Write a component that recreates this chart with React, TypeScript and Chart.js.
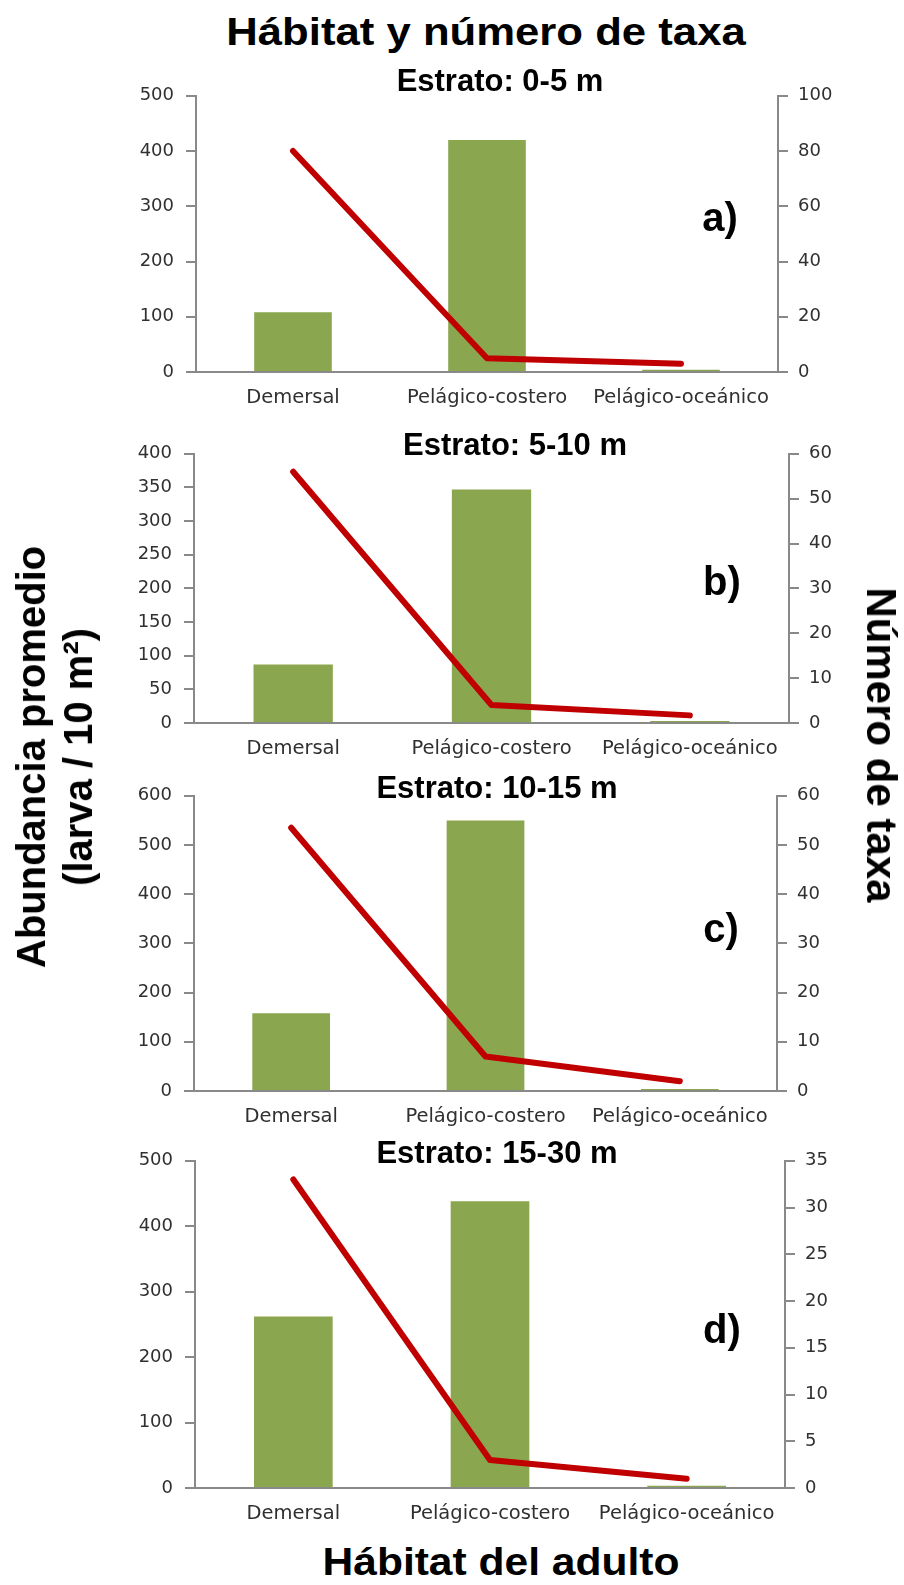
import React, { useEffect, useRef } from "react";
import { Chart, registerables } from "chart.js";

Chart.register(...registerables);

// ---------- data ----------
const categories = ["Demersal", "Pelágico-costero", "Pelágico-oceánico"];

const panelTitles = ["Estrato: 0-5 m", "Estrato: 5-10 m", "Estrato: 10-15 m", "Estrato: 15-30 m"];
const panelLetters = ["a)", "b)", "c)", "d)"];

const abundance0_5 = [108, 420, 4];
const taxa0_5 = [80, 5, 3];
const abundance5_10 = [87, 347, 3];
const taxa5_10 = [56, 4, 1.7];
const abundance10_15 = [158, 550, 4];
const taxa10_15 = [53.5, 7, 2];
const abundance15_30 = [262, 438, 3.5];
const taxa15_30 = [33, 3, 1];

const leftMax = [500, 400, 600, 500];
const leftStep = [100, 50, 100, 100];
const rightMax = [100, 60, 60, 35];
const rightStep = [20, 10, 10, 5];

const mainTitle = "Hábitat y número de taxa";
const xTitle = "Hábitat del adulto";
const yLeftTitle1 = "Abundancia promedio";
const yLeftTitle2 = "(larva / 10 m²)";
const yRightTitle = "Número de taxa";

const abundanceSeries = [abundance0_5, abundance5_10, abundance10_15, abundance15_30];
const taxaSeries = [taxa0_5, taxa5_10, taxa10_15, taxa15_30];

// ---------- layout / style ----------
const CANVAS_LEFT = 100;
const CANVAS_WIDTH = 790;
const PAD_TOP = 15;
const X_AXIS_H = 45;
const AXIS = "#898989";
const TICK = "#303030";
const BAR = "#8AA64E";
const LINE = "#C00000";
const TITLE_FONT = '"Liberation Sans", Arial, sans-serif';
const TICK_FONT = '"DejaVu Sans", Verdana, sans-serif';

const layouts = [
  { left: 196, right: 778, top: 88, bottom: 372, titleX: 500, titleY: 80, letterX: 720, letterY: 217 },
  { left: 194, right: 789, top: 446, bottom: 723, titleX: 515, titleY: 444, letterX: 722, letterY: 581 },
  { left: 194, right: 777, top: 788, bottom: 1091, titleX: 497, titleY: 787, letterX: 721, letterY: 928 },
  { left: 195, right: 785, top: 1153, bottom: 1488, titleX: 497, titleY: 1152, letterX: 722, letterY: 1329 },
];

function Panel({ idx }: { idx: number }) {
  const ref = useRef<HTMLCanvasElement>(null);
  const L = layouts[idx];
  const height = PAD_TOP + (L.bottom - L.top) + X_AXIS_H;

  useEffect(() => {
    const canvas = ref.current!;
    const chart = new Chart(canvas, {
      type: "bar",
      data: {
        labels: categories,
        datasets: [
          {
            type: "line",
            data: taxaSeries[idx],
            yAxisID: "y1",
            borderColor: LINE,
            backgroundColor: LINE,
            borderWidth: 6,
            pointRadius: 0,
            tension: 0,
            fill: false,
            order: 0,
            borderCapStyle: "round",
            borderJoinStyle: "round",
          } as any,
          {
            type: "bar",
            data: abundanceSeries[idx],
            yAxisID: "y",
            backgroundColor: BAR,
            borderWidth: 0,
            barPercentage: 0.4,
            categoryPercentage: 1,
            order: 1,
          } as any,
        ],
      },
      options: {
        responsive: false,
        animation: false,
        devicePixelRatio: 1,
        layout: { padding: { top: PAD_TOP, left: 0, right: 0, bottom: 0 } },
        plugins: {
          legend: { display: false },
          tooltip: { enabled: false },
          title: { display: false },
        },
        scales: {
          x: {
            type: "category",
            offset: true,
            grid: { display: false, drawTicks: false },
            border: { display: true, color: AXIS, width: 2 },
            ticks: {
              color: TICK,
              font: { family: TICK_FONT, size: 19.5 },
              padding: 14,
              maxRotation: 0,
              minRotation: 0,
              autoSkip: false,
            },
            afterFit: (s: any) => {
              s.height = X_AXIS_H;
            },
          },
          y: {
            position: "left",
            min: 0,
            max: leftMax[idx],
            ticks: {
              stepSize: leftStep[idx],
              color: TICK,
              font: { family: TICK_FONT, size: 18 },
              padding: 12,
              autoSkip: false,
            },
            grid: { drawOnChartArea: false, drawTicks: true, tickLength: 10, color: AXIS, lineWidth: 2 },
            border: { display: true, color: AXIS, width: 2 },
            afterFit: (s: any) => {
              s.width = L.left - CANVAS_LEFT;
            },
          },
          y1: {
            position: "right",
            min: 0,
            max: rightMax[idx],
            ticks: {
              stepSize: rightStep[idx],
              color: TICK,
              font: { family: TICK_FONT, size: 18 },
              padding: 10,
              autoSkip: false,
            },
            grid: { drawOnChartArea: false, drawTicks: true, tickLength: 10, color: AXIS, lineWidth: 2 },
            border: { display: true, color: AXIS, width: 2 },
            afterFit: (s: any) => {
              s.width = CANVAS_LEFT + CANVAS_WIDTH - L.right;
            },
          },
        },
      } as any,
    });
    return () => chart.destroy();
  }, [idx]);

  return (
    <canvas
      ref={ref}
      width={CANVAS_WIDTH}
      height={height}
      style={{
        position: "absolute",
        left: CANVAS_LEFT,
        top: L.top - PAD_TOP,
        width: CANVAS_WIDTH,
        height: height,
      }}
    />
  );
}

function Text({
  x,
  y,
  size,
  transform = "",
  lineHeight = 1 as number | string,
  children,
}: {
  x: number;
  y: number;
  size: number;
  transform?: string;
  lineHeight?: number | string;
  children: React.ReactNode;
}) {
  return (
    <div
      style={{
        position: "absolute",
        left: x,
        top: y,
        transform: `translate(-50%, -50%) ${transform}`,
        fontFamily: TITLE_FONT,
        fontWeight: "bold",
        fontSize: size,
        lineHeight: lineHeight as any,
        whiteSpace: "nowrap",
        textAlign: "center",
        color: "#000",
      }}
    >
      {children}
    </div>
  );
}

export default function App() {
  return (
    <div
      style={{
        position: "absolute",
        left: 0,
        top: 0,
        width: 904,
        height: 1585,
        background: "#fff",
        overflow: "hidden",
      }}
    >
      {layouts.map((_, i) => (
        <Panel key={i} idx={i} />
      ))}
      {layouts.map((L, i) => (
        <React.Fragment key={"t" + i}>
          <Text x={L.titleX} y={L.titleY} size={31}>
            {panelTitles[i]}
          </Text>
          <Text x={L.letterX} y={L.letterY} size={40}>
            {panelLetters[i]}
          </Text>
        </React.Fragment>
      ))}
      <Text x={486} y={31} size={39} transform="scaleX(1.12)">
        {mainTitle}
      </Text>
      <Text x={501} y={1562} size={38} transform="scaleX(1.12)">
        {xTitle}
      </Text>
      <Text x={55} y={757} size={40} lineHeight="47px" transform="rotate(-90deg)">
        {yLeftTitle1}
        <br />
        {yLeftTitle2}
      </Text>
      <Text x={881} y={745} size={42} transform="rotate(90deg)">
        {yRightTitle}
      </Text>
    </div>
  );
}
